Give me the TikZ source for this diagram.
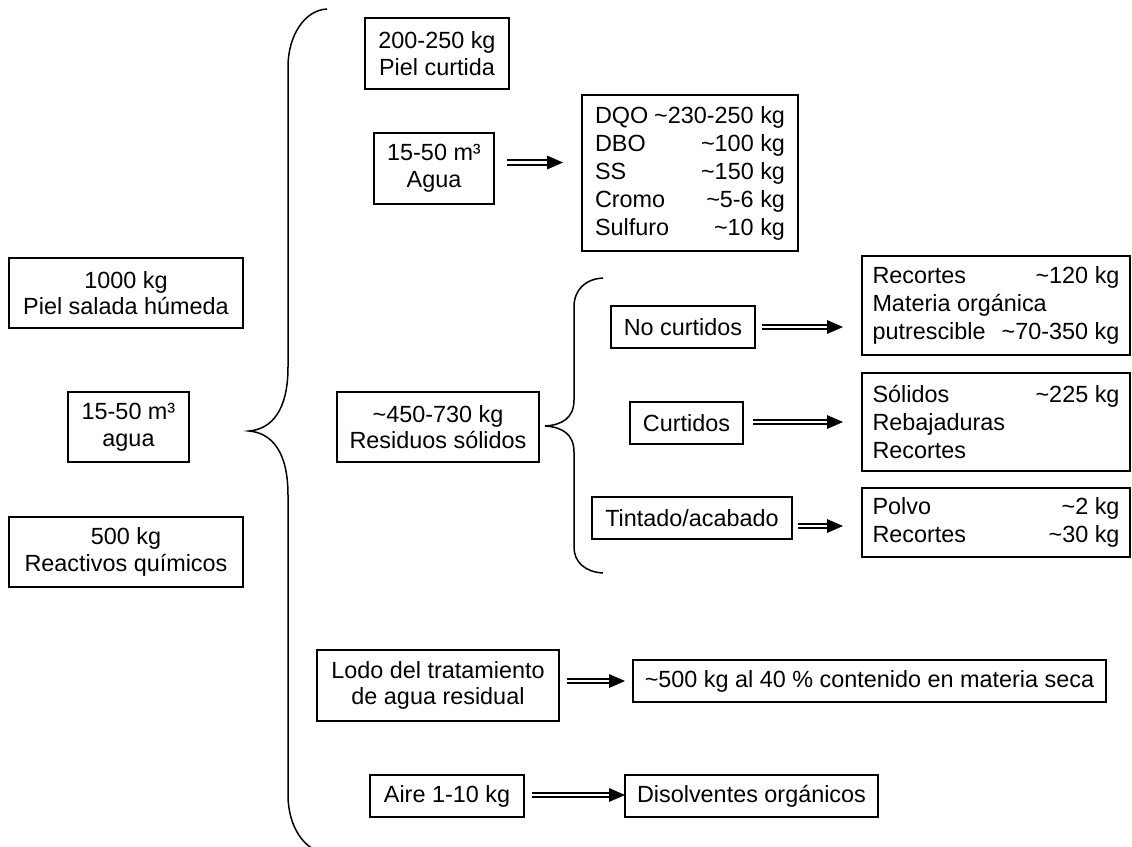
\documentclass[tikz,border=0pt]{standalone}
\usepackage{fontspec}
\setmainfont{Liberation Sans}
\usetikzlibrary{calc}
\newcommand\tld{\textasciitilde}
% one line of a list: label on the left, quantity pushed to the right
\newcommand\lrow[3]{\makebox[#1][l]{#2\hfill#3}}

\tikzset{
  box/.style={draw, line width=0.65pt, inner sep=0pt, outer sep=0pt,
    align=center, font=\fontsize{11.7}{13.3}\selectfont},
  listbox/.style={draw, line width=0.65pt, inner sep=0pt, outer sep=0pt,
    align=left, font=\fontsize{11.7}{14}\selectfont},
  brace/.style={line width=0.75pt},
  shaft/.style={double, double distance=1.2pt, line width=1pt},
}
% double-lined flow arrow with a solid head, between two named coordinates
\newcommand\flowarrow[2]{%
  \draw[shaft, shorten >=7pt] (#1) -- (#2);
  \fill (#2) -- ++(-16,7) -- ++(0,-14) -- cycle;}

\begin{document}
\begin{tikzpicture}[x=0.5pt, y=-0.5pt]
  \fill[white] (0,0) rectangle (1132,847);
  \useasboundingbox (0,0) rectangle (1132,847);

  % inputs
  \node[box, minimum width=117pt, minimum height=35pt] (piel) at (126,293)
    {1000 kg\\Piel salada húmeda};
  \node[box, minimum width=60.5pt, minimum height=35pt] (agua) at (128.5,427)
    {15-50 m³\\agua};
  \node[box, minimum width=117pt, minimum height=35pt] (reac) at (126,552)
    {500 kg\\Reactivos químicos};

  % main brace
  \draw[brace] (327,9) .. controls (305,10) and (288,35) .. (288,67)
    -- (288,367) .. controls (288,410) and (272,429) .. (249,431)
    .. controls (272,433) and (288,452) .. (288,495)
    -- (288,795) .. controls (288,827) and (305,852) .. (327,853);

  % outputs
  \node[box, minimum width=72pt, minimum height=35.5pt] (pcurt) at (437,53.5)
    {200-250 kg\\Piel curtida};
  \node[box, minimum width=60pt, minimum height=35.5pt] (aguaout) at (434,168.5)
    {15-50 m³\\Agua};
  \node[listbox, minimum width=108pt, minimum height=78pt] (dqo) at (690,173)
    {\lrow{95pt}{DQO}{\tld230-250 kg}\\
     \lrow{95pt}{DBO}{\tld100 kg}\\
     \lrow{95pt}{SS}{\tld150 kg}\\
     \lrow{95pt}{Cromo}{\tld5-6 kg}\\
     \lrow{95pt}{Sulfuro}{\tld10 kg}};

  \node[box, minimum width=101pt, minimum height=35pt] (resid) at (438,427)
    {\tld450-730 kg\\Residuos sólidos};

  % solid waste brace
  \draw[brace] (603,278) .. controls (585,279) and (574,290) .. (574,307)
    -- (574,400) .. controls (574,418) and (562,425) .. (545,426)
    .. controls (562,427) and (574,434) .. (574,452)
    -- (574,547) .. controls (574,562) and (585,572) .. (603,573);

  \node[box, minimum width=72pt, minimum height=21pt] (nocurt) at (683,327)
    {No curtidos};
  \node[box, minimum width=56.5pt, minimum height=21pt] (curtidos) at (686.5,423)
    {Curtidos};
  \node[box, minimum width=100pt, minimum height=21pt] (tint) at (692,518)
    {Tintado/acabado};

  \node[listbox, minimum width=134pt, minimum height=49.5pt] (r1) at (996,305.5)
    {\lrow{123.5pt}{Recortes}{\tld120 kg}\\
     \lrow{123.5pt}{Materia orgánica}{}\\
     \lrow{123.5pt}{putrescible}{\tld70-350 kg}};
  \node[listbox, minimum width=134pt, minimum height=49pt] (r2) at (996,422)
    {\lrow{123.5pt}{Sólidos}{\tld225 kg}\\
     \lrow{123.5pt}{Rebajaduras}{}\\
     \lrow{123.5pt}{Recortes}{}};
  \node[listbox, minimum width=134pt, minimum height=34.5pt] (r3) at (996,522.5)
    {\lrow{123.5pt}{Polvo}{\tld2 kg}\\
     \lrow{123.5pt}{Recortes}{\tld30 kg}};

  \node[box, minimum width=121pt, minimum height=35.5pt] (lodo) at (438,685.5)
    {Lodo del tratamiento\\de agua residual};
  \node[box, minimum width=236.5pt, minimum height=21pt] (seca) at (869.5,681)
    {\tld500 kg al 40 \% contenido en materia seca};
  \node[box, minimum width=77pt, minimum height=21pt] (aire) at (447,796)
    {Aire 1-10 kg};
  \node[box, minimum width=126.5pt, minimum height=21pt] (disol) at (751.5,796)
    {Disolventes orgánicos};

  % arrow end points
  \coordinate (a1s) at ($(aguaout.east)+(13,-6)$);
  \coordinate (a1e) at ($(aguaout.east -| dqo.west)+(-19,-6)$);
  \coordinate (a2s) at ($(nocurt.east)+(7,0)$);
  \coordinate (a2e) at ($(nocurt.east -| r1.west)+(-19,0)$);
  \coordinate (a3s) at ($(curtidos.east)+(10,-1)$);
  \coordinate (a3e) at ($(curtidos.east -| r2.west)+(-19,-1)$);
  \coordinate (a4s) at ($(tint.east)+(6,8)$);
  \coordinate (a4e) at ($(tint.east -| r3.west)+(-19,8)$);
  \coordinate (a5s) at ($(lodo.east |- seca.west)+(8,0)$);
  \coordinate (a5e) at ($(seca.west)+(-8,0)$);
  \coordinate (a6s) at ($(aire.east)+(8,-1)$);
  \coordinate (a6e) at ($(aire.east -| disol.west)+(0,-1)$);

  \flowarrow{a1s}{a1e}
  \flowarrow{a2s}{a2e}
  \flowarrow{a3s}{a3e}
  \flowarrow{a4s}{a4e}
  \flowarrow{a5s}{a5e}
  \flowarrow{a6s}{a6e}
\end{tikzpicture}
\end{document}
